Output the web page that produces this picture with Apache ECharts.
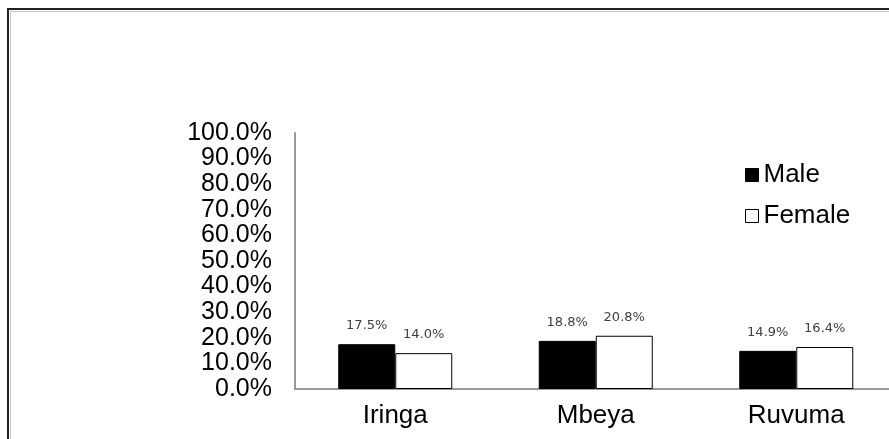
<!DOCTYPE html>
<html>
<head>
<meta charset="utf-8">
<title>Male / Female by region</title>
<script src="https://cdn.jsdelivr.net/npm/echarts@6/dist/echarts.min.js"></script>
<style>
  html, body { margin: 0; padding: 0; background: #fff; overflow: hidden; }
  /* the plot runs a little past the right edge of the window */
  #chart { width: 897px; height: 439px; }
</style>
</head>
<body>
<div id="chart"></div>
<script>
// Regions along the category axis
const regions = ['Iringa', 'Mbeya', 'Ruvuma'];
// Shares per region (percent)
const maleValues = [17.5, 18.8, 14.9];
const femaleValues = [14.0, 20.8, 16.4];
// Value axis range and step (percent)
const yMin = 0;
const yMax = 100;
const yStep = 10;

const chart = echarts.init(document.getElementById('chart'));

const pct = v => v.toFixed(1) + '%';

const barLabel = {
  show: true,
  position: 'top',
  distance: 12,
  fontFamily: 'DejaVu Sans',
  fontSize: 13,
  color: '#404040',
  formatter: p => pct(p.value)
};

chart.setOption({
  animation: false,
  backgroundColor: '#fff',
  graphic: [
    {
      type: 'rect',
      silent: true,
      shape: { x: 8, y: 9, width: 900, height: 450 },
      style: { fill: 'none', stroke: '#222', lineWidth: 2 }
    },
    {
      type: 'rect',
      silent: true,
      shape: { x: 10.5, y: 11.5, width: 900, height: 450 },
      style: { fill: 'none', stroke: '#c8c8c8', lineWidth: 1 }
    }
  ],
  legend: {
    orient: 'vertical',
    left: 745,
    top: 162,
    padding: 0,
    itemWidth: 13,
    itemHeight: 13,
    itemGap: 15,
    icon: 'rect',
    textStyle: {
      fontFamily: 'Liberation Sans',
      fontSize: 26,
      lineHeight: 26,
      color: '#000'
    },
    data: [
      { name: 'Male', itemStyle: { color: '#000', borderColor: '#000', borderWidth: 1 } },
      { name: 'Female', itemStyle: { color: '#fff', borderColor: '#000', borderWidth: 1 } }
    ]
  },
  grid: {
    left: 295,
    top: 133,
    height: 256,
    width: 601.5,
    containLabel: false
  },
  xAxis: {
    type: 'category',
    data: regions,
    axisLine: { show: true, lineStyle: { color: '#999', width: 2 } },
    axisTick: { show: false },
    axisLabel: {
      margin: 14,
      fontFamily: 'Liberation Sans',
      fontSize: 26,
      color: '#000'
    },
    splitLine: { show: false }
  },
  yAxis: {
    type: 'value',
    min: yMin,
    max: yMax,
    interval: yStep,
    axisLine: { show: true, lineStyle: { color: '#999', width: 2 } },
    axisTick: { show: false },
    splitLine: { show: false },
    axisLabel: {
      margin: 23,
      fontFamily: 'Liberation Sans',
      fontSize: 25,
      color: '#000',
      formatter: v => pct(v)
    }
  },
  series: [
    {
      name: 'Male',
      type: 'bar',
      data: maleValues,
      barWidth: 57,
      barGap: '0%',
      itemStyle: { color: '#000', borderColor: '#000', borderWidth: 1 },
      label: barLabel
    },
    {
      name: 'Female',
      type: 'bar',
      data: femaleValues,
      barWidth: 57,
      barGap: '0%',
      itemStyle: { color: '#fff', borderColor: '#000', borderWidth: 1 },
      label: barLabel
    }
  ]
});
</script>
</body>
</html>
